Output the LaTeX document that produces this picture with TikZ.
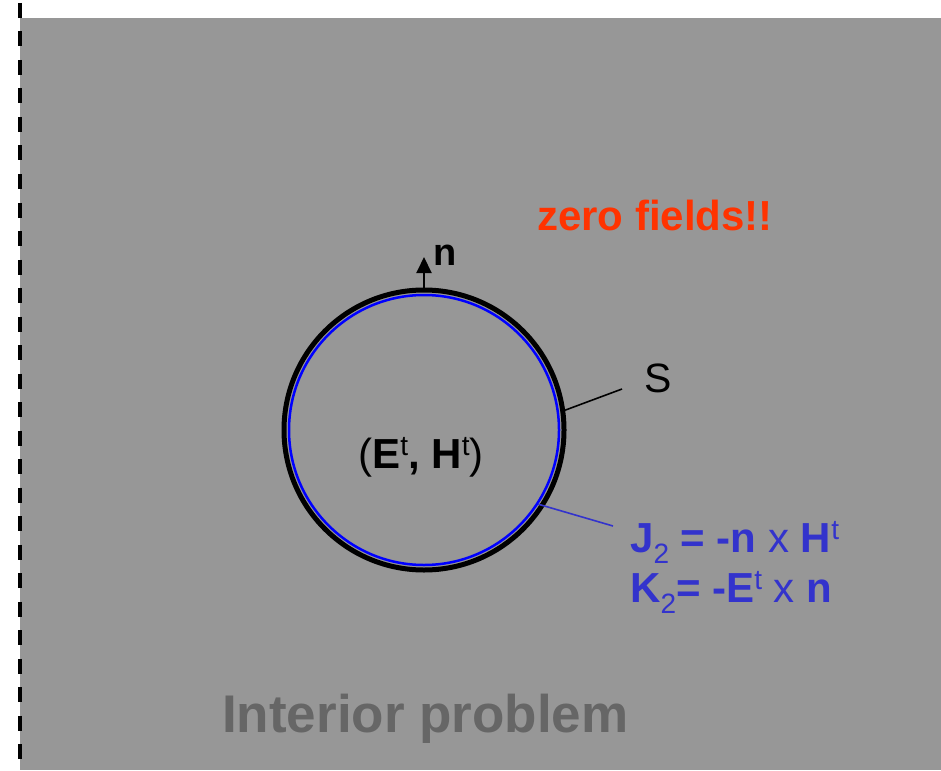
\documentclass[tikz,border=0pt]{standalone}
\usepackage{fontspec}
\setmainfont{Liberation Sans}
\usetikzlibrary{arrows.meta}
\definecolor{bggray}{RGB}{151,151,151}
\definecolor{zred}{RGB}{255,51,0}
\definecolor{eqblue}{RGB}{51,51,204}
\definecolor{intgray}{RGB}{102,102,102}
\newcommand\mysup[1]{\raisebox{0.3em}[0pt][0pt]{\fontsize{28}{28}\selectfont\mdseries #1}}
\newcommand\mysub[1]{\raisebox{-0.27em}[0pt][0pt]{\fontsize{28}{28}\selectfont\mdseries #1}}
\begin{document}
\begin{tikzpicture}[x=1pt,y=-1pt,
  txt/.style={inner sep=0pt, anchor=base west, font=\fontsize{41}{44}\selectfont},
  ring/.style={circle, inner sep=0pt, fill=none}]
\useasboundingbox (0,0) rectangle (941,770);
\fill[bggray] (20,18) rectangle (941,770);
\draw[line width=4pt, dash pattern=on 15pt off 13.5pt] (20,3) -- (20,770);

\coordinate (c) at (424,430);
\node[ring, draw=black, line width=5pt, minimum size=280pt] (sph) at (c) {};
\node[ring, draw=blue, line width=2.5pt, minimum size=270pt] (surf) at (c) {};

% normal vector
\coordinate (ntip) at (424,257);
\draw[line width=2pt, -{Triangle[length=16pt,width=15pt]}] (sph.north) -- (ntip);
\node[txt, font=\fontsize{38}{40}\selectfont\bfseries] (nlab) at (433,265) {n};

% fields inside
\node[txt, anchor=base, font=\fontsize{42}{44}\selectfont] (fields) at (421,468) {(\textbf{E}\mysup{t}\textbf{,} \textbf{H}\mysup{t})};

% zero fields
\node[txt, font=\fontsize{42}{46}\selectfont\bfseries, text=zred] (zero) at (537,230) {zero fields!!};

% S label
\node[txt] (slab) at (644,392) {S};
\coordinate (send) at (622,389);
\draw[line width=1.6pt] (sph.8) -- (send);

% currents
\node[txt, text=eqblue, font=\fontsize{42}{44}\selectfont] (eqJ) at (630,552) {\textbf{J}\mysub{2} \textbf{= -n} x \textbf{H}\mysup{t}};
\node[txt, text=eqblue, font=\fontsize{42}{44}\selectfont] (eqK) at (630,602) {\textbf{K}\mysub{2}\textbf{= -E}\mysup{t} x \textbf{n}};
\coordinate (jend) at (613,526);
\draw[eqblue, line width=1.6pt] (surf.-33) -- (jend);

% title
\node[txt, font=\fontsize{53}{58}\selectfont\bfseries, text=intgray] (title) at (222,732) {Interior problem};
\end{tikzpicture}
\end{document}
